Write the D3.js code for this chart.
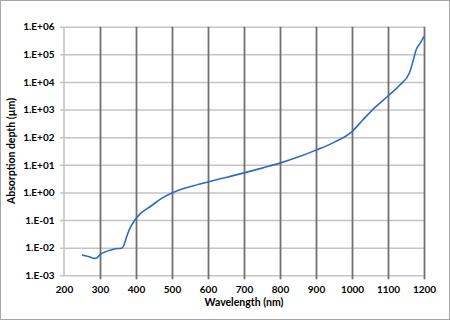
<!DOCTYPE html>
<html>
<head>
<meta charset="utf-8">
<script src="https://cdn.jsdelivr.net/npm/d3@7"></script>
<style>
  html, body { margin: 0; padding: 0; background: #fff; }
  svg { display: block; }
  text { font-family: Lato, "Open Sans", "DejaVu Sans", sans-serif; font-weight: bold; fill: #000; }
</style>
</head>
<body>
<svg id="chart" width="450" height="320"></svg>
<script>
const wavelengths = [250, 270, 285, 292, 300, 320, 340, 360, 366, 374, 383, 397, 410, 425, 440, 470, 500, 530, 560, 600, 650, 700, 750, 800, 850, 900, 950, 1000, 1030, 1064, 1100, 1133, 1160, 1170, 1178, 1190, 1200];
const depths = [0.0054, 0.0047, 0.0041, 0.0043, 0.0056, 0.0075, 0.009, 0.0096, 0.012, 0.025, 0.05, 0.1, 0.16, 0.23, 0.31, 0.6, 0.95, 1.35, 1.75, 2.4, 3.5, 5.1, 7.6, 11.5, 19, 34, 65, 160, 420, 1200, 3100, 7700, 22000, 60000, 143000, 260000, 450000];
const xTicks = [200, 300, 400, 500, 600, 700, 800, 900, 1000, 1100, 1200];
const yTicks = [1e-3, 1e-2, 1e-1, 1e0, 1e1, 1e2, 1e3, 1e4, 1e5, 1e6];
const yTickLabels = ["1.E-03", "1.E-02", "1.E-01", "1.E+00", "1.E+01", "1.E+02", "1.E+03", "1.E+04", "1.E+05", "1.E+06"];
const xTitle = "Wavelength (nm)";
const yTitle = "Absorption depth (µm)";

const svg = d3.select("#chart");
const pL = 64, pR = 424, pT = 26.7, pB = 275.3;

svg.append("rect").attr("x", 0.5).attr("y", 0.5).attr("width", 449).attr("height", 319)
  .attr("fill", "#fff").attr("stroke", "#a6a6a6").attr("stroke-width", 1);

const x = d3.scaleLinear().domain([200, 1200]).range([pL, pR]);
const y = d3.scaleLog().domain([1e-3, 1e6]).range([pB, pT]);

// horizontal gridlines (light)
const yAxis = d3.axisLeft(y).tickValues(yTicks)
  .tickSize(-(pR - pL) - 4).tickSizeOuter(0)
  .tickFormat((d, i) => yTickLabels[i]).tickPadding(6);
const gy = svg.append("g").attr("transform", `translate(${pL - 4},0)`).call(yAxis);
gy.select(".domain").remove();
gy.selectAll(".tick line").attr("stroke", "#c4c4c4").attr("stroke-width", 1.6);
gy.selectAll(".tick text").attr("font-size", 10).attr("x", -5.5)
  .style("font-family", "Lato, 'Open Sans', sans-serif").style("font-weight", "bold");

// left axis line
svg.append("line").attr("x1", pL).attr("x2", pL).attr("y1", pT).attr("y2", pB)
  .attr("stroke", "#c4c4c4").attr("stroke-width", 1.6);

// vertical gridlines (dark)
const xAxis = d3.axisBottom(x).tickValues(xTicks)
  .tickSize(-(pB - pT) - 4).tickSizeOuter(0).tickFormat(d3.format("d")).tickPadding(10);
const gx = svg.append("g").attr("transform", `translate(0,${pB + 4})`).call(xAxis);
gx.select(".domain").remove();
gx.selectAll(".tick line").attr("stroke", "#707070").attr("stroke-width", 1.8);
gx.selectAll(".tick").filter(d => d === 200).select("line").remove();
gx.selectAll(".tick text").attr("font-size", 10).attr("dy", "0.4em")
  .style("font-family", "Lato, 'Open Sans', sans-serif").style("font-weight", "bold");

// curve
const pts = wavelengths.map((w, i) => [w, depths[i]]);
const line = d3.line().x(d => x(d[0])).y(d => y(d[1])).curve(d3.curveMonotoneX);
svg.append("path").datum(pts).attr("d", line)
  .attr("fill", "none").attr("stroke", "#2e6bbf").attr("stroke-width", 1.6);

// titles
svg.append("text").attr("x", (pL + pR) / 2).attr("y", 306)
  .attr("text-anchor", "middle").attr("font-size", 10.5).text(xTitle);
svg.append("text").attr("transform", `translate(15,${(pT + pB) / 2}) rotate(-90)`)
  .attr("text-anchor", "middle").attr("font-size", 10.5).text(yTitle);
</script>
</body>
</html>
